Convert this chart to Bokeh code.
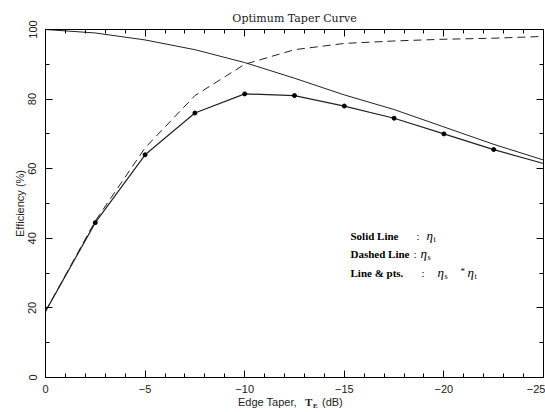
from bokeh.plotting import figure
from bokeh.models import FixedTicker, LinearAxis, Range1d, Label, Div, CustomLabelingPolicy
from bokeh.layouts import column
from bokeh.embed import file_html
from bokeh.resources import INLINE

# ---- data ----
taper_db = [0, -2.5, -5, -7.5, -10, -12.5, -15, -17.5, -20, -22.5, -25]
eta_t = [100, 99.0, 97.0, 94.2, 90.5, 86.0, 81.2, 77.0, 72.0, 67.0, 62.5]
eta_s = [19, 45, 66, 81, 90, 94.2, 96, 96.7, 97.2, 97.5, 98]
eta_prod = [19, 44.5, 64, 76, 81.5, 81, 78, 74.5, 70, 65.5, 61.5]

x_tick_values = [0, -5, -10, -15, -20, -25]
x_tick_labels = ["0", "\u22125", "\u221210", "\u221215", "\u221220", "\u221225"]
x_minor_values = list(range(0, -26, -1))
y_tick_values = [0, 20, 40, 60, 80, 100]
y_tick_labels = ["0", "20", "40", "60", "80", "100"]
y_minor_values = list(range(0, 101, 10))

SANS = "Liberation Sans"
SERIF = "Liberation Serif"
INK = "#222222"

p = figure(width=545, height=395,
           x_range=Range1d(0, -25), y_range=Range1d(0, 100),
           output_backend="svg", toolbar_location=None,
           min_border_left=45, min_border_right=2,
           min_border_top=29, min_border_bottom=18)
p.grid.visible = False
p.outline_line_color = "black"
p.background_fill_color = "white"
p.border_fill_color = "white"

p.title.text = "Optimum Taper Curve"
p.title.align = "center"
p.title.text_font = "DejaVu Serif"
p.title.text_font_size = "11px"
p.title.text_font_style = "normal"
p.title.text_color = INK
p.title.standoff = 9

xt = FixedTicker(ticks=x_tick_values, minor_ticks=x_minor_values)
yt = FixedTicker(ticks=y_tick_values, minor_ticks=y_minor_values)


def style_axis(ax):
    ax.axis_line_color = "black"
    ax.major_tick_line_color = "black"
    ax.minor_tick_line_color = "black"
    ax.major_tick_in = 7
    ax.major_tick_out = 0
    ax.minor_tick_in = 4
    ax.minor_tick_out = 0
    ax.major_label_text_font = SANS
    ax.major_label_text_font_size = "11px"
    ax.major_label_text_color = INK


xa = p.xaxis[0]
xa.ticker = xt
style_axis(xa)
xa.major_label_overrides = dict(zip(x_tick_values, x_tick_labels))
xa.major_label_standoff = 7
xa.axis_label = None

ya = p.yaxis[0]
ya.ticker = yt
style_axis(ya)
ya.major_label_overrides = dict(zip(y_tick_values, y_tick_labels))
ya.major_label_orientation = "vertical"
ya.major_label_standoff = 9
ya.axis_label = "Efficiency (%)"
ya.axis_label_text_font = SANS
ya.axis_label_text_font_size = "11px"
ya.axis_label_text_font_style = "normal"
ya.axis_label_text_color = INK
ya.axis_label_standoff = 0

no_labels = CustomLabelingPolicy(code="""
try { for (const i of [...indices]) indices.unset(i) } catch (e) {}
return indices
""")

top = LinearAxis(ticker=FixedTicker(ticks=x_tick_values, minor_ticks=x_minor_values))
style_axis(top)
top.major_label_policy = no_labels
top.major_label_text_font_size = "0px"
top.major_label_standoff = 0
p.add_layout(top, "above")

right = LinearAxis(ticker=FixedTicker(ticks=y_tick_values, minor_ticks=y_minor_values))
style_axis(right)
right.major_label_policy = no_labels
right.major_label_text_font_size = "0px"
right.major_label_standoff = 0
p.add_layout(right, "right")

# ---- curves ----
p.line(taper_db, eta_t, line_color=INK, line_width=1)
p.line(taper_db, eta_s, line_color=INK, line_width=1, line_dash="8 5")
p.line(taper_db, eta_prod, line_color=INK, line_width=1.2)
p.scatter(taper_db[1:-1], eta_prod[1:-1], marker="circle", size=4,
          fill_color="black", line_color="black")


def lab(sx, sy, text, font=SERIF, size="11px", style="normal"):
    p.add_layout(Label(x=sx, y=sy, x_units="screen", y_units="screen",
                       text=text, text_font=font, text_font_size=size,
                       text_font_style=style, text_color="black",
                       text_baseline="middle", text_align="left"))


# legend-like annotation (offsets from the frame's lower-left corner)
lab(305, 142, "Solid Line", style="bold")
lab(371, 142, ":")
lab(381, 142, "\u03b7", size="13px", style="italic")
lab(388, 138, "t", size="8px")

lab(305, 124, "Dashed Line", style="bold")
lab(368, 124, ":")
lab(375, 124, "\u03b7", size="13px", style="italic")
lab(382, 120, "s", size="8px")

lab(305, 105, "Line & pts.", style="bold")
lab(376, 105, ":")
lab(392, 105, "\u03b7", size="13px", style="italic")
lab(399, 101, "s", size="8px")
lab(415, 107, "*", size="9px")
lab(422, 105, "\u03b7", size="13px", style="italic")
lab(429, 101, "t", size="8px")

# x axis title (mixed fonts, subscript) as real HTML text under the plot
xlabel_html = (
    '<div style="position:relative;width:545px;height:17px;'
    "font-family:'Liberation Sans';font-size:11px;color:#222;line-height:14px;\">"
    '<span style="position:absolute;left:238px;top:0px;">Edge Taper,</span>'
    "<span style=\"position:absolute;left:305px;top:0px;font-family:'Liberation Serif';"
    'font-weight:bold;font-size:11px;">T</span>'
    "<span style=\"position:absolute;left:313px;top:4px;font-family:'Liberation Serif';"
    'font-weight:bold;font-size:7px;">E</span>'
    '<span style="position:absolute;left:322px;top:0px;">(dB)</span>'
    '</div>'
)
xlabel = Div(text=xlabel_html, width=545, height=17, margin=(0, 0, 0, 0))

layout = column(p, xlabel, spacing=0)

open("out.html", "w").write(file_html(layout, INLINE))
